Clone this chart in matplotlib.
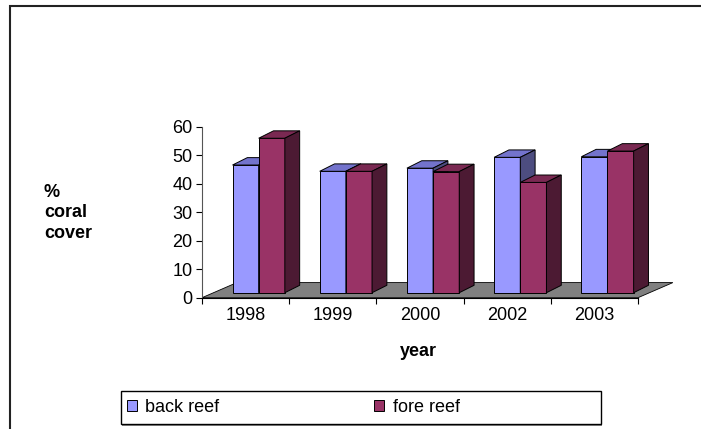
import matplotlib
matplotlib.use('Agg')
import matplotlib.pyplot as plt
from matplotlib.patches import Polygon, Rectangle, Patch

# données
years = ['1998', '1999', '2000', '2002', '2003']
back_reef = [44.8, 42.6, 43.7, 47.5, 47.7]
fore_reef = [54.2, 42.6, 42.5, 38.7, 49.7]
series = ['back reef', 'fore reef']

# couleurs : face avant, dessus, côté
back_cols = ('#9999FF', '#7373CC', '#4D4D80')
fore_cols = ('#993366', '#7A2952', '#4C1A33')

plt.rcParams['font.family'] = ['Liberation Sans', 'DejaVu Sans']
plt.rcParams['font.size'] = 13

fig = plt.figure(figsize=(7.01, 4.29), dpi=100)
ax = fig.add_axes([202 / 701, 1 - 297.7 / 429, 479.6 / 701, 176.7 / 429])
ax.set_xlim(-0.5, 5.0)
ax.set_ylim(0, 62)

# géométrie pseudo-3D (unités des données)
floor_dx, floor_dy = 0.4, 5.3
shift_x, base = 0.15, 1.75
bar_w = 0.3
depth_dx, depth_dy = 0.17, 2.6

n = len(years)
floor = Polygon([(-0.5, 0), (n - 0.5, 0), (n - 0.5 + floor_dx, floor_dy),
                 (-0.5 + floor_dx, floor_dy)], closed=True,
                facecolor='#808080', edgecolor='black', lw=0.6, zorder=1)
ax.add_patch(floor)

z = 2
for i in range(n):
    for vals, cols, off in [(back_reef, back_cols, -bar_w), (fore_reef, fore_cols, 0)]:
        x0 = i + shift_x + off
        x1 = x0 + bar_w
        top = base + vals[i]
        ax.bar(x0, vals[i], width=bar_w, bottom=base, align='edge',
               color=cols[0], edgecolor='black', lw=0.7, zorder=z)
        ax.add_patch(Polygon([(x0, top), (x1, top), (x1 + depth_dx, top + depth_dy),
                              (x0 + depth_dx, top + depth_dy)],
                             fc=cols[1], ec='black', lw=0.7, zorder=z))
        ax.add_patch(Polygon([(x1, base), (x1 + depth_dx, base + depth_dy),
                              (x1 + depth_dx, top + depth_dy), (x1, top)],
                             fc=cols[2], ec='black', lw=0.7, zorder=z))
        z += 0.1

# axes
ax.spines['top'].set_visible(False)
ax.spines['right'].set_visible(False)
ax.spines['left'].set_bounds(0, 60)
ax.spines['left'].set_color('#555555')
ax.spines['bottom'].set_bounds(-0.5, n - 0.5)
ax.set_yticks(range(0, 61, 10))
ax.set_xticks([i - 0.5 for i in range(n + 1)])
ax.set_xticklabels([])
ax.set_xticks(range(n), minor=True)
ax.set_xticklabels(years, minor=True)
ax.tick_params(axis='x', which='minor', length=0, pad=7)
ax.tick_params(axis='x', which='major', length=4, direction='out')
ax.tick_params(axis='y', length=4, pad=3)

# titres des axes
fig.text(44 / 701, 1 - 213 / 429, '%\ncoral\ncover', fontweight='bold',
         ha='left', va='center', linespacing=1.3)
fig.text(418 / 701, 1 - 351 / 429, 'year', fontweight='bold',
         ha='center', va='center')

# légende
fig.add_artist(Rectangle((122 / 701, 1 - 425.8 / 429), 480 / 701, 33.6 / 429,
                         transform=fig.transFigure, fill=True, fc='#888888',
                         ec='none', zorder=0))
fig.add_artist(Rectangle((120.7 / 701, 1 - 424.3 / 429), 480 / 701, 33.6 / 429,
                         transform=fig.transFigure, fc='white', ec='black',
                         lw=1.0, zorder=1))
handles = [Patch(fc=back_cols[0], ec='black', lw=0.7),
           Patch(fc=fore_cols[0], ec='black', lw=0.7)]
leg = fig.legend(handles, series, loc='center left',
                 bbox_to_anchor=(127 / 701, 1 - 407.5 / 429), ncol=2,
                 frameon=False, handlelength=0.55, handleheight=0.55,
                 handletextpad=0.45, columnspacing=8.6, borderpad=0,
                 borderaxespad=0)
leg.set_zorder(2)

# cadre extérieur
fig.add_artist(Rectangle((10 / 701, -0.1), 1.0, 1.1 - 6 / 429,
                         transform=fig.transFigure, fill=False,
                         ec='#222222', lw=1.5))

plt.savefig('out.png', dpi=100)
